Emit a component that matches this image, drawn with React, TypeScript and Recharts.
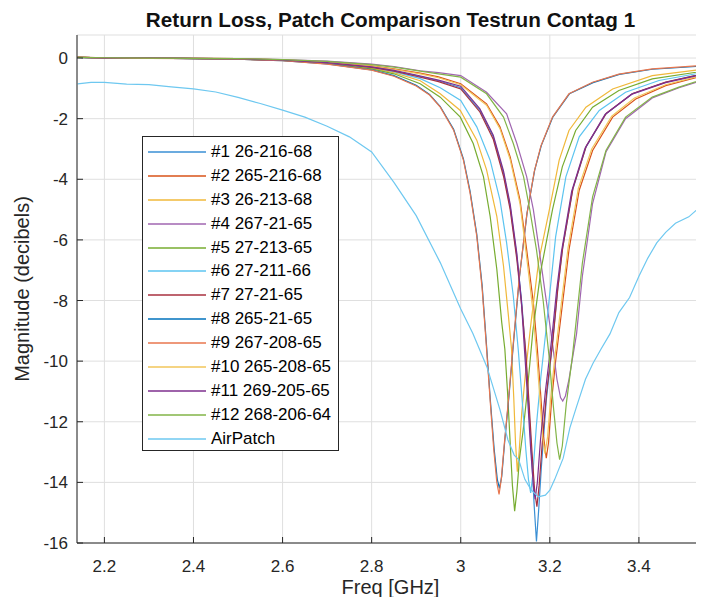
import React from 'react';
import { LineChart, Line, XAxis, YAxis, CartesianGrid, Legend, Label } from 'recharts';

// [freq GHz, magnitude dB]
const series1: [number, number][] = [
  [2.14, 0.03], [2.2, 0.0], [2.3, 0.01], [2.4, -0.01], [2.5, -0.03], [2.6, -0.07], [2.7, -0.15],
  [2.8, -0.3], [2.85, -0.42], [2.9, -0.58], [2.95, -0.75], [3.0, -0.98], [3.043, -1.73], [3.073, -2.6],
  [3.096, -3.8], [3.111, -4.9], [3.126, -6.54], [3.137, -8.07], [3.145, -9.6], [3.152, -11.3],
  [3.159, -13.1], [3.165, -14.8], [3.17, -15.95], [3.175, -14.9], [3.181, -13.5], [3.192, -11.3],
  [3.206, -9.4], [3.217, -7.7], [3.228, -6.33], [3.251, -4.36], [3.281, -2.94], [3.326, -1.84],
  [3.385, -1.18], [3.46, -0.8], [3.55, -0.5],
];
const series2: [number, number][] = [
  [2.14, 0.02], [2.2, 0.01], [2.3, 0.0], [2.4, -0.01], [2.5, -0.02], [2.6, -0.06], [2.7, -0.13],
  [2.8, -0.26], [2.85, -0.36], [2.909, -0.5], [2.95, -0.62], [3.0, -0.85], [3.058, -1.51], [3.088, -2.27],
  [3.111, -3.26], [3.133, -4.68], [3.148, -6.32], [3.163, -8.07], [3.172, -9.6], [3.179, -11.0],
  [3.186, -12.5], [3.192, -13.2], [3.197, -12.7], [3.204, -11.3], [3.213, -10.0], [3.222, -8.9],
  [3.243, -6.33], [3.266, -4.36], [3.296, -3.05], [3.341, -1.95], [3.393, -1.35], [3.46, -0.91], [3.55, -0.56],
];
const series3: [number, number][] = [
  [2.14, 0.03], [2.2, 0.01], [2.3, 0.0], [2.4, -0.01], [2.5, -0.03], [2.6, -0.07], [2.7, -0.16],
  [2.8, -0.33], [2.85, -0.48], [2.909, -0.75], [2.954, -1.18], [2.999, -1.73], [3.036, -2.71], [3.058, -3.69],
  [3.081, -5.22], [3.096, -6.86], [3.107, -8.5], [3.114, -9.6], [3.119, -11.2], [3.123, -12.7],
  [3.127, -13.65], [3.131, -13.0], [3.137, -11.7], [3.146, -10.3], [3.158, -8.7], [3.175, -6.7],
  [3.199, -5.0], [3.221, -3.37], [3.243, -2.39], [3.281, -1.62], [3.341, -1.02], [3.43, -0.58], [3.55, -0.36],
];
const series4: [number, number][] = [
  [2.14, 0.03], [2.2, 0.01], [2.3, 0.01], [2.4, -0.01], [2.5, -0.02], [2.6, -0.05], [2.7, -0.1],
  [2.8, -0.2], [2.85, -0.28], [2.909, -0.42], [2.95, -0.48], [3.0, -0.58], [3.058, -1.13], [3.103, -1.84],
  [3.126, -2.82], [3.148, -3.91], [3.163, -5.0], [3.176, -6.32], [3.19, -7.8], [3.205, -9.3],
  [3.216, -10.6], [3.224, -11.2], [3.229, -11.32], [3.235, -11.15], [3.243, -10.6], [3.26, -9.1],
  [3.273, -7.2], [3.296, -4.8], [3.326, -3.1], [3.37, -2.0], [3.43, -1.32], [3.49, -0.98], [3.55, -0.7],
];
const series5: [number, number][] = [
  [2.14, 0.02], [2.2, 0.0], [2.3, 0.01], [2.4, -0.02], [2.5, -0.03], [2.6, -0.08], [2.7, -0.18],
  [2.8, -0.36], [2.85, -0.52], [2.909, -0.85], [2.954, -1.29], [2.999, -1.95], [3.028, -2.82], [3.051, -3.91],
  [3.066, -5.22], [3.081, -6.97], [3.092, -8.72], [3.099, -9.6], [3.105, -11.0], [3.111, -12.7],
  [3.116, -14.1], [3.121, -14.95], [3.126, -14.3], [3.132, -13.2], [3.14, -12.3], [3.148, -11.2],
  [3.162, -9.0], [3.18, -7.0], [3.206, -5.0], [3.228, -3.59], [3.258, -2.39], [3.296, -1.62],
  [3.355, -1.07], [3.43, -0.69], [3.55, -0.42],
];
const series6: [number, number][] = [
  [2.14, 0.02], [2.2, 0.0], [2.3, 0.0], [2.4, -0.02], [2.5, -0.03], [2.6, -0.07], [2.7, -0.15],
  [2.8, -0.3], [2.85, -0.45], [2.909, -0.68], [2.954, -0.98], [3.0, -1.4], [3.036, -2.27], [3.066, -3.37],
  [3.088, -4.68], [3.103, -6.1], [3.118, -7.85], [3.129, -9.6], [3.138, -11.3], [3.146, -12.9],
  [3.152, -13.9], [3.157, -14.35], [3.162, -13.7], [3.17, -12.1], [3.18, -10.5], [3.192, -8.9],
  [3.213, -5.9], [3.236, -3.92], [3.266, -2.6], [3.311, -1.73], [3.37, -1.13], [3.445, -0.74], [3.55, -0.46],
];
const series7: [number, number][] = [
  [2.14, 0.02], [2.2, 0.01], [2.3, 0.0], [2.4, -0.02], [2.5, -0.03], [2.6, -0.08], [2.7, -0.16],
  [2.8, -0.31], [2.85, -0.43], [2.9, -0.6], [2.95, -0.78], [3.0, -1.02], [3.043, -1.78], [3.073, -2.68],
  [3.096, -3.9], [3.111, -5.0], [3.126, -6.65], [3.137, -8.2], [3.146, -9.7], [3.153, -11.3],
  [3.16, -13.0], [3.166, -14.3], [3.171, -14.8], [3.176, -14.1], [3.183, -12.7], [3.193, -11.0],
  [3.207, -9.3], [3.218, -7.6], [3.229, -6.25], [3.252, -4.3], [3.282, -2.9], [3.327, -1.82],
  [3.386, -1.17], [3.46, -0.79], [3.55, -0.5],
];
const series8: [number, number][] = [
  [2.14, 0.02], [2.2, 0.01], [2.3, 0.0], [2.4, -0.02], [2.5, -0.04], [2.6, -0.09], [2.7, -0.19],
  [2.8, -0.39], [2.85, -0.58], [2.9, -0.9], [2.93, -1.2], [2.954, -1.6], [2.984, -2.35], [3.006, -3.33],
  [3.021, -4.4], [3.036, -5.82], [3.048, -7.5], [3.058, -9.5], [3.066, -11.2], [3.075, -12.9],
  [3.082, -13.9], [3.087, -14.2], [3.092, -13.8], [3.099, -12.6], [3.108, -11.2], [3.119, -9.3],
  [3.132, -7.2], [3.149, -5.1], [3.166, -3.7], [3.181, -2.88], [3.207, -1.94], [3.244, -1.18],
  [3.297, -0.81], [3.356, -0.54], [3.43, -0.37], [3.55, -0.26],
];
const series9: [number, number][] = [
  [2.14, 0.03], [2.2, 0.0], [2.3, -0.01], [2.4, -0.02], [2.5, -0.04], [2.6, -0.09], [2.7, -0.2],
  [2.8, -0.4], [2.85, -0.6], [2.9, -0.92], [2.93, -1.22], [2.954, -1.62], [2.984, -2.38], [3.006, -3.37],
  [3.021, -4.46], [3.036, -5.88], [3.048, -7.6], [3.058, -9.6], [3.066, -11.3], [3.074, -12.9],
  [3.081, -14.0], [3.086, -14.4], [3.091, -13.9], [3.098, -12.7], [3.107, -11.3], [3.118, -9.4],
  [3.131, -7.3], [3.148, -5.2], [3.165, -3.75], [3.18, -2.9], [3.206, -1.95], [3.243, -1.18],
  [3.296, -0.8], [3.355, -0.53], [3.43, -0.36], [3.55, -0.24],
];
const series10: [number, number][] = [
  [2.14, 0.03], [2.2, 0.0], [2.3, 0.01], [2.4, -0.01], [2.5, -0.02], [2.6, -0.06], [2.7, -0.14],
  [2.8, -0.27], [2.85, -0.37], [2.909, -0.52], [2.95, -0.65], [3.0, -0.88], [3.058, -1.56], [3.088, -2.33],
  [3.111, -3.35], [3.133, -4.8], [3.147, -6.45], [3.161, -8.2], [3.17, -9.7], [3.177, -11.1],
  [3.184, -12.5], [3.189, -13.05], [3.195, -12.5], [3.202, -11.2], [3.211, -9.9], [3.22, -8.8],
  [3.241, -6.25], [3.264, -4.3], [3.294, -3.0], [3.339, -1.92], [3.39, -1.32], [3.46, -0.88], [3.55, -0.54],
];
const series11: [number, number][] = [
  [2.14, 0.02], [2.2, 0.0], [2.3, 0.01], [2.4, -0.01], [2.5, -0.03], [2.6, -0.07], [2.7, -0.15],
  [2.8, -0.29], [2.85, -0.41], [2.9, -0.56], [2.95, -0.73], [3.0, -0.93], [3.043, -1.68], [3.073, -2.55],
  [3.096, -3.72], [3.111, -4.82], [3.126, -6.45], [3.136, -8.0], [3.143, -9.6], [3.15, -11.2],
  [3.157, -12.9], [3.163, -14.1], [3.167, -14.55], [3.172, -14.0], [3.179, -12.6], [3.19, -11.0],
  [3.204, -9.3], [3.215, -7.7], [3.226, -6.4], [3.249, -4.4], [3.279, -2.98], [3.324, -1.86],
  [3.383, -1.2], [3.46, -0.81], [3.55, -0.52],
];
const series12: [number, number][] = [
  [2.14, 0.02], [2.2, 0.01], [2.3, 0.0], [2.4, -0.01], [2.5, -0.02], [2.6, -0.05], [2.7, -0.11],
  [2.8, -0.22], [2.85, -0.3], [2.909, -0.43], [2.95, -0.52], [3.0, -0.63], [3.058, -1.18], [3.096, -1.95],
  [3.118, -2.82], [3.141, -3.91], [3.155, -5.0], [3.17, -6.32], [3.185, -8.0], [3.198, -9.8],
  [3.208, -11.5], [3.216, -12.7], [3.222, -13.25], [3.228, -12.8], [3.237, -11.4], [3.251, -9.8],
  [3.273, -6.77], [3.296, -4.58], [3.326, -3.05], [3.37, -1.95], [3.43, -1.29], [3.49, -0.96], [3.55, -0.68],
];
const airPatch: [number, number][] = [
  [2.14, -0.85], [2.17, -0.8], [2.2, -0.8], [2.25, -0.86], [2.3, -0.88], [2.35, -0.95], [2.4, -1.02],
  [2.45, -1.12], [2.5, -1.3], [2.55, -1.5], [2.6, -1.72], [2.65, -1.95], [2.7, -2.25], [2.75, -2.6],
  [2.8, -3.1], [2.85, -4.1], [2.9, -5.2], [2.954, -6.75], [3.0, -8.28], [3.027, -9.08], [3.059, -10.2],
  [3.088, -11.6], [3.106, -12.6], [3.12, -13.1], [3.13, -13.25], [3.144, -13.9], [3.158, -14.25],
  [3.174, -14.48], [3.19, -14.42], [3.2, -14.26], [3.211, -13.9], [3.23, -13.2], [3.245, -12.2],
  [3.26, -11.5], [3.28, -10.6], [3.297, -10.07], [3.315, -9.6], [3.335, -9.1], [3.355, -8.4],
  [3.379, -7.9], [3.4, -7.2], [3.42, -6.6], [3.44, -6.1], [3.46, -5.75], [3.482, -5.45],
  [3.512, -5.24], [3.55, -4.75],
];

const SERIES_DATA = [
  series1, series2, series3, series4, series5, series6, series7,
  series8, series9, series10, series11, series12, airPatch,
];
const SERIES_NAMES = [
  '#1 26-216-68', '#2 265-216-68', '#3 26-213-68', '#4 267-21-65', '#5 27-213-65',
  '#6 27-211-66', '#7 27-21-65', '#8 265-21-65', '#9 267-208-65', '#10 265-208-65',
  '#11 269-205-65', '#12 268-206-64', 'AirPatch',
];
const SERIES_COLORS = [
  '#3a8fd4', '#d95319', '#f0b83a', '#a066b0', '#77ac30', '#5cc4f0', '#a8303f',
  '#0072bd', '#e8764e', '#f2c65a', '#7e2f8e', '#82b447', '#6ec8f0',
];

const X_TICKS = [2.2, 2.4, 2.6, 2.8, 3, 3.2, 3.4];
const Y_TICKS = [-16, -14, -12, -10, -8, -6, -4, -2, 0];

// the axes box runs past the right edge of the window, like the reference
const VISIBLE_W = 696;
const CHART_W = 720;
const CHART_H = 589;
const Y_AXIS_W = 69;
const X_DOMAIN = [2.1385, 3.6];
const FONT = '"Liberation Sans", Arial, Helvetica, sans-serif';
const AXIS_COLOR = '#262626';

const fmtX = (v: number) => String(Number(v.toFixed(1)));

const BottomTick = (props: any) => {
  const { x, y, payload } = props;
  return (
    <g>
      <line x1={x} x2={x} y1={y} y2={y - 6} stroke={AXIS_COLOR} />
      <text x={x} y={y + 29} textAnchor="middle" fill={AXIS_COLOR} fontSize={17} fontFamily={FONT}>
        {fmtX(payload.value)}
      </text>
    </g>
  );
};

const TopTick = (props: any) => {
  const { x, y } = props;
  return <line x1={x} x2={x} y1={y} y2={y + 6} stroke={AXIS_COLOR} />;
};

const LeftTick = (props: any) => {
  const { x, y, payload } = props;
  return (
    <g>
      <line x1={x} x2={x + 6} y1={y} y2={y} stroke={AXIS_COLOR} />
      <text x={x - 9} y={y + 6} textAnchor="end" fill={AXIS_COLOR} fontSize={17} fontFamily={FONT}>
        {payload.value}
      </text>
    </g>
  );
};

const renderYLabel = (props: any) => {
  const vb = props.viewBox;
  const cx = 14;
  const cy = vb.y + vb.height / 2;
  return (
    <text
      x={cx}
      y={cy}
      transform={`rotate(-90 ${cx} ${cy})`}
      textAnchor="middle"
      dominantBaseline="central"
      fill={AXIS_COLOR}
      fontSize={20}
      fontFamily={FONT}
    >
      Magnitude (decibels)
    </text>
  );
};

const renderTitle = (props: any) => {
  const vb = props.viewBox;
  const cx = (Y_AXIS_W + VISIBLE_W) / 2;
  return (
    <text
      x={cx}
      y={vb.y - 8}
      textAnchor="middle"
      fill="#111"
      fontSize={20.7}
      fontWeight="bold"
      fontFamily={FONT}
    >
      Return Loss, Patch Comparison Testrun Contag 1
    </text>
  );
};

const LegendBox = (props: any) => {
  const items = [...(props.payload ?? [])].sort(
    (a: any, b: any) => SERIES_NAMES.indexOf(a.value) - SERIES_NAMES.indexOf(b.value),
  );
  return (
    <div
      style={{
        boxSizing: 'border-box',
        width: 197,
        height: 315,
        border: `1px solid ${AXIS_COLOR}`,
        background: '#fff',
        paddingTop: 3,
        fontFamily: FONT,
        fontSize: 17,
        color: '#000',
      }}
    >
      {items.map((item: any) => (
        <div key={item.value} style={{ display: 'flex', alignItems: 'center', height: 23.9 }}>
          <svg width={58} height={4} style={{ marginLeft: 5, marginRight: 5 }}>
            <line x1={0} x2={58} y1={2} y2={2} stroke={item.color} strokeWidth={1.5} />
          </svg>
          <span style={{ whiteSpace: 'nowrap' }}>{item.value}</span>
        </div>
      ))}
    </div>
  );
};

export default function App() {
  return (
    <div style={{ width: VISIBLE_W, height: CHART_H, overflow: 'hidden' }}>
      <LineChart width={CHART_W} height={CHART_H} margin={{ top: 27, right: 0, bottom: 0, left: 0 }}>
        <CartesianGrid stroke="#dfdfdf" />
        <XAxis
          dataKey="f"
          type="number"
          domain={X_DOMAIN}
          ticks={X_TICKS}
          interval={0}
          allowDataOverflow
          height={54}
          tickSize={0}
          tickMargin={0}
          tickLine={false}
          tick={<BottomTick />}
          axisLine={{ stroke: AXIS_COLOR }}
          label={{
            content: (p: any) => (
              <text
                x={(Y_AXIS_W + VISIBLE_W) / 2}
                y={p.viewBox.y + p.viewBox.height - 3}
                textAnchor="middle"
                fill={AXIS_COLOR}
                fontSize={20}
                fontFamily={FONT}
              >
                Freq [GHz]
              </text>
            ),
          }}
        />
        <XAxis
          xAxisId="top"
          orientation="top"
          type="number"
          domain={X_DOMAIN}
          ticks={X_TICKS}
          interval={0}
          allowDataOverflow
          height={0}
          tickSize={0}
          tickMargin={0}
          tickLine={false}
          tick={<TopTick />}
          axisLine={{ stroke: AXIS_COLOR }}
        />
        <YAxis
          type="number"
          domain={[-16, 0.76]}
          ticks={Y_TICKS}
          interval={0}
          allowDataOverflow
          width={Y_AXIS_W}
          tickSize={0}
          tickMargin={0}
          tickLine={false}
          tick={<LeftTick />}
          axisLine={{ stroke: AXIS_COLOR }}
        >
          <Label content={renderYLabel} />
          <Label content={renderTitle} />
        </YAxis>
        {SERIES_DATA.map((arr, i) => (
          <Line
            key={SERIES_NAMES[i]}
            data={arr.map(([f, v]) => ({ f, v }))}
            dataKey="v"
            name={SERIES_NAMES[i]}
            stroke={SERIES_COLORS[i]}
            strokeWidth={1.2}
            type="linear"
            dot={false}
            activeDot={false}
            isAnimationActive={false}
          />
        ))}
        <Legend
          layout="horizontal"
          verticalAlign="middle"
          align="center"
          content={<LegendBox />}
          wrapperStyle={{ left: 134, top: 128, width: 'auto', height: 'auto' }}
        />
      </LineChart>
    </div>
  );
}
